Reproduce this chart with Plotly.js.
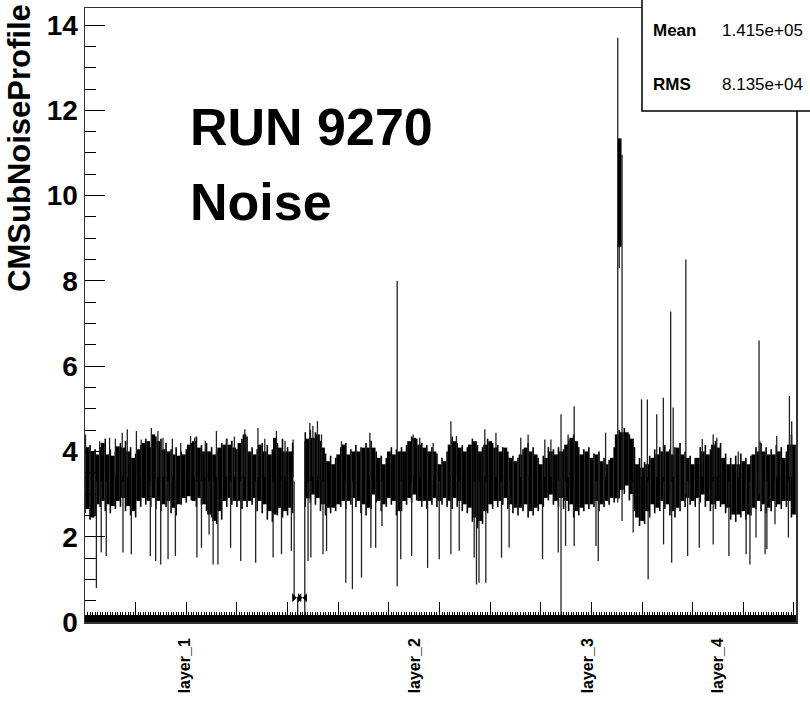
<!DOCTYPE html>
<html>
<head>
<meta charset="utf-8">
<script src="https://cdn.plot.ly/plotly-3.0.1.min.js"></script>
<style>html,body{margin:0;padding:0;background:#fff;}#chart{width:810px;height:703px;}</style>
</head>
<body>
<div id="chart"></div>
<script>
// x in thousands of strips (bin index / 1000)
const layerLabels = ["layer_1", "layer_2", "layer_3", "layer_4"];
const layerPos = [39.4, 130.2, 198.6, 250.0];

// dense core of the profile, part A (before the gap)
const coreAX = [1,3,5,7,9,11,13,15,17,19,21,23,25,27,29,31,33,35,37,39,41,43,45,47,49,51,53,55,57,59,61,63,65,67,69,71,73,75,77,79,81];
const coreAHi = [4.10,4.00,3.93,4.20,3.93,3.90,4.12,4.09,4.00,3.85, 4.05,4.20,4.24,4.40,4.24,4.05,4.00,3.93,3.90,3.93, 4.16,4.24,4.09,4.00,4.00,3.93,4.09,4.16,4.16,4.09, 4.20,4.40,4.00,3.93,4.16,4.00,3.93,4.32,4.09,4.00, 4.00];
const coreALo = [2.65,2.45,2.76,2.84,2.76,2.72,2.84,2.91,2.72,2.60, 2.84,2.91,2.84,2.91,2.84,2.76,2.84,2.68,2.76,2.91, 2.95,2.84,2.91,2.76,2.52,2.37,2.60,2.84,2.91,2.84, 2.84,2.84,2.84,2.91,2.84,2.76,2.60,2.52,2.68,2.60, 2.68];

// neighbouring bins in part A (between core columns)
const hairAX = [0,2,4,6,8,10,12,14,16,18,20,22,24,26,28,30,32,34,36,38,40,42,44,46,48,50,52,54,56,58,60,62,64,66,68,70,72,74,76,78,80,82];
const hairAHi = [4.25,4.15,4.05,4.10,4.30,4.05,4.00,4.20,4.25,4.10, 3.95,4.15,4.30,4.10,4.35,4.30,4.20,4.05,4.10,4.00, 4.05,4.20,4.35,4.15,4.20,4.10,4.00,4.20,4.30,4.25, 4.05,4.30,4.35,4.10,4.05,4.20,4.15,4.05,4.20,4.30, 4.10,4.20];
const hairALo = [2.55,2.40,2.50,2.70,2.60,2.55,2.65,2.70,2.60,2.50, 2.45,2.70,2.75,2.70,2.65,2.60,2.70,2.55,2.50,2.75, 2.80,2.85,2.70,2.75,2.60,2.45,2.30,2.40,2.70,2.75, 2.70,2.65,2.70,2.75,2.60,2.55,2.40,2.35,2.50,2.45, 2.50,2.55];

// dense core, part B (after the gap)
const coreBX = [88,90,92,94,96,98,100,102,104,106, 108,110,112,114,116,118,120,122,124,126, 128,130,132,134,136,138,140,142,144,146, 148,150,152,154,156,158,160,162,164,166, 168,170,172,174,176,178,180,182,184,186, 188,190,192,194,196,198,200,202,204,206, 208,210,212,214,216,218,220,222,224,226, 228,230,232,234,236,238,240,242,244,246, 248,250,252,254,256,258,260,262,264,266, 268,270,272,274,276,278,280];
const coreBHi = [4.30,4.32,4.40,4.09,3.77,3.70,3.93,4.16,3.93,4.00, 4.00,4.09,4.09,4.09,3.85,3.70,4.00,3.93,4.00,4.00, 4.24,4.32,4.16,4.09,4.00,4.00,3.70,3.77,4.16,4.24, 4.09,4.00,4.16,4.24,4.00,4.16,4.24,4.09,4.00,4.09, 3.85,3.77,3.93,4.09,4.00,3.93,3.70,3.85,4.00,3.93, 4.00,4.16,4.32,4.24,3.93,4.00,3.85,3.93,3.77,3.70, 3.85,4.40,4.45,4.45,4.30,3.70,3.62,3.70,3.85,3.93, 4.00,4.00,3.93,4.09,3.93,3.85,3.70,3.85,4.00,3.93, 4.16,4.09,3.85,3.70,3.70,3.70,3.77,3.70,3.93,4.00, 4.00,3.93,3.93,4.00,3.85,4.16,4.16];
const coreBLo = [2.90,2.99,2.91,2.76,2.68,2.68,2.76,2.84,2.84,2.91, 2.84,2.76,2.68,2.99,2.84,2.76,2.91,2.84,2.60,2.84, 2.91,2.99,2.84,2.84,2.84,2.91,2.84,2.91,2.84,2.91, 2.84,2.76,2.68,2.45,2.37,2.60,2.76,2.84,2.84,2.91, 2.76,2.68,2.68,2.76,2.60,2.68,2.76,2.91,2.99,2.84, 2.91,2.84,2.76,2.60,2.68,2.76,2.76,2.84,2.76,2.84, 2.91,2.90,3.10,3.20,3.00,2.45,2.37,2.60,2.76,2.68, 2.84,2.76,2.60,2.68,2.84,2.91,2.84,2.91,2.99,2.84, 2.76,2.84,2.76,2.68,2.52,2.52,2.60,2.52,2.68,2.84, 2.76,2.68,2.84,2.76,2.84,2.84,2.52];

// neighbouring bins in part B
const hairBX = [87,89,91,93,95,97,99,101,103,105, 107,109,111,113,115,117,119,121,123,125, 127,129,131,133,135,137,139,141,143,145, 147,149,151,153,155,157,159,161,163,165, 167,169,171,173,175,177,179,181,183,185, 187,189,191,193,195,197,199,201,203,205, 207,209,211,213,215,217,219,221,223,225, 227,229,231,233,235,237,239,241,243,245, 247,249,251,253,255,257,259,261,263,265, 267,269,271,273,275,277,279];
const hairBHi = [4.45,4.50,4.45,4.25,3.95,3.90,3.85,4.10,4.20,4.05, 4.15,4.10,4.20,4.25,4.00,3.90,3.85,4.10,4.05,4.10, 4.15,4.35,4.30,4.20,4.15,4.10,3.95,3.85,4.00,4.35, 4.20,4.15,4.10,4.30,4.15,4.10,4.30,4.20,4.15,4.10, 4.00,3.90,3.85,4.05,4.20,4.10,3.85,3.90,4.10,4.05, 4.10,4.05,4.25,4.40,4.10,4.05,4.10,3.95,4.00,3.85, 3.80,4.10,4.50,4.55,4.40,4.10,3.85,3.75,3.90,4.05, 4.10,4.15,4.05,4.10,4.20,4.00,3.90,3.85,4.10,4.15, 4.05,4.25,4.20,3.95,3.85,3.90,3.95,3.85,3.90,4.10, 4.20,4.10,4.05,4.15,4.10,4.00,4.40];
const hairBLo = [2.70,2.80,2.75,2.60,2.50,2.55,2.60,2.70,2.65,2.75, 2.70,2.55,2.50,2.65,2.80,2.60,2.70,2.75,2.50,2.60, 2.75,2.80,2.85,2.70,2.65,2.75,2.70,2.75,2.70,2.65, 2.70,2.60,2.55,2.35,2.20,2.30,2.55,2.65,2.70,2.75, 2.65,2.55,2.50,2.60,2.45,2.50,2.60,2.70,2.85,2.75, 2.70,2.65,2.60,2.45,2.50,2.60,2.65,2.70,2.60,2.70, 2.75,2.80,2.90,3.00,2.85,2.60,2.25,2.30,2.45,2.55, 2.60,2.65,2.50,2.45,2.60,2.70,2.75,2.70,2.80,2.70, 2.60,2.65,2.70,2.55,2.40,2.35,2.45,2.40,2.50,2.65, 2.60,2.55,2.60,2.70,2.65,2.70,2.45];

// single thin bins sticking far out of the core
const spikeX = [0.2,5.8,9.7,12,14.7,16.7,20.3,22.2,26.2,28.8,30.8,34.5,37.8,41.7,43.3,47.5,51.9,55.8,59,63.1,68.3,71,75.6,79,82.2,
  4.5,6.4,8.4,15.0,18.3,25.8,27.9,29.9,32.8,35.7,44.2,46.0,49.0,50.6,52.5,57.5,61.5,67.4,74.3,77.6,81.5,
  82.6,84.0,86.8,
  88.8,90,91.8,93.4,101.3,112.5,129.6,132.2,137.5,144.5,146.7,157.9,162.3,172.1,175,181.6,184,190.8,193.2,205.6,219.8,222.1,225.8,228.4,232.3,243.8,248.1,249.5,258,266.6,273.2,278.2,279.1,
  123.3,188,210.4,211.0,212.1,231.3,237.3,266.2,
  88.1,89.2,94,95.4,103,105.6,109.2,112.9,114.8,117.3,124.7,129,135.3,139.9,144.5,147.8,153.7,154.6,155.6,158.3,164.5,167.5,180.7,186.9,189.8,193.2,201.8,202.7,216.5,222.4,228.5,231.7,238,242.6,248.1,254.3,261.1,262.6,265,268.6,269.3,272.5,277.8];
const spikeLo = [3.4,3.4,3.4,3.4,3.4,3.4,3.4,3.4,3.4,3.4,3.4,3.4,3.4,3.4,3.4,3.4,3.4,3.4,3.4,3.4,3.4,3.4,3.4,3.4,3.4,
  0.80,1.63,1.55,1.63,1.59,1.55,1.43,1.35,1.47,1.55,1.51,1.74,2.05,1.35,1.35,1.74,1.43,1.39,1.51,1.59,1.67,
  0.57,0.0,0.0,
  3.4,3.4,3.4,3.4,3.4,3.4,3.4,3.4,3.4,3.4,3.4,3.4,3.4,3.4,3.4,3.4,3.4,3.4,3.4,3.4,3.4,3.4,3.4,3.4,3.4,3.4,3.4,3.4,3.4,3.4,3.4,3.4,3.4,
  0.84,0.0,2.8,8.3,2.37,3.0,3.0,3.0,
  1.43,1.51,1.59,1.67,0.92,0.77,1.04,1.74,1.74,2.25,1.47,1.55,1.27,1.47,1.59,1.67,1.51,0.88,0.92,0.92,1.51,1.74,1.47,1.63,1.78,1.78,1.78,1.43,2.10,1.00,1.82,1.39,1.55,1.74,1.82,1.55,1.59,1.35,1.98,1.59,1.71,2.29,1.98];
const spikeHi = [4.40,4.24,4.32,4.30,4.44,4.52,4.48,4.28,4.55,4.48,4.32,4.30,4.20,4.36,4.32,4.25,4.48,4.28,4.35,4.52,4.55,4.30,4.48,4.25,4.28,
  3.3,3.3,3.3,3.3,3.3,3.3,3.3,3.3,3.3,3.3,3.3,3.3,3.3,3.3,3.3,3.3,3.3,3.3,3.3,3.3,3.3,
  3.30,0.57,4.24,
  4.67,4.60,4.71,4.40,4.24,4.44,4.40,4.32,4.20,4.71,4.36,4.52,4.44,4.32,4.40,4.28,4.28,4.40,5.06,4.44,5.22,5.22,4.87,5.26,5.03,4.29,4.40,4.32,4.00,4.24,4.36,5.30,4.71,
  8.00,4.87,13.70,11.34,10.96,7.28,8.50,6.60,
  3.3,3.3,3.3,3.3,3.3,3.3,3.3,3.3,3.3,3.3,3.3,3.3,3.3,3.3,3.3,3.3,3.3,3.3,3.3,3.3,3.3,3.3,3.3,3.3,3.3,3.3,3.3,3.3,3.3,3.3,3.3,3.3,3.3,3.3,3.3,3.3,3.3,3.3,3.3,3.3,3.3,3.3,3.3];

// wide part of the big spike
const blobX = [211.2];
const blobLo = [8.8];
const blobHi = [11.34];

// dead bins in the gap
const gapX = [83.6, 85.9];
const gapY = [0.57, 0.57];

const statNames = ["Mean", "RMS"];
const statValues = ["1.415e+05", "8.135e+04"];

function segs(xs, lo, hi) {
  const X = [], Y = [];
  for (let i = 0; i < xs.length; i++) {
    X.push(xs[i], xs[i], null);
    Y.push(lo[i], hi[i], null);
  }
  return {x: X, y: Y};
}

const FONT = "Liberation Sans, Arial, Helvetica, sans-serif";
const a = segs(coreAX, coreALo, coreAHi);
const b = segs(coreBX, coreBLo, coreBHi);
const ha = segs(hairAX, hairALo, hairAHi);
const hb = segs(hairBX, hairBLo, hairBHi);
const s = segs(spikeX, spikeLo, spikeHi);
const bl = segs(blobX, blobLo, blobHi);

function seg(d, w, c) {
  return {x: d.x, y: d.y, mode: "lines", line: {color: c, width: w}, hoverinfo: "skip", showlegend: false};
}

const traces = [
  seg(a, 3.8, "#000"),
  seg(b, 3.8, "#000"),
  seg(ha, 1.6, "#000"),
  seg(hb, 1.6, "#000"),
  seg(s, 1.3, "#222"),
  seg(bl, 3.5, "#000"),
  {x: gapX, y: gapY, mode: "markers", marker: {symbol: "bowtie", size: 9, color: "#000"}, hoverinfo: "skip", showlegend: false},
  {x: layerPos, y: [null,null,null,null], xaxis: "x2", mode: "markers", showlegend: false, hoverinfo: "skip"}
];

const annotations = [
  {text: "CMSubNoiseProfile", textangle: -90, xref: "paper", yref: "paper", x: -0.0914, y: 1.01, xanchor: "center", yanchor: "top", showarrow: false, font: {family: FONT, size: 31, weight: 700, color: "#000"}},
  {text: "RUN 9270", xref: "paper", yref: "paper", x: 0.145, y: 0.806, xanchor: "left", yanchor: "middle", showarrow: false, font: {family: FONT, size: 52, weight: 700, color: "#000"}},
  {text: "Noise", xref: "paper", yref: "paper", x: 0.145, y: 0.684, xanchor: "left", yanchor: "middle", showarrow: false, font: {family: FONT, size: 52, weight: 700, color: "#000"}}
];
const statY = [0.964, 0.876];
for (let i = 0; i < statNames.length; i++) {
  annotations.push({text: statNames[i], xref: "paper", yref: "paper", x: 0.7955, y: statY[i], xanchor: "left", yanchor: "middle", showarrow: false, font: {family: FONT, size: 17, weight: 700, color: "#000"}});
  annotations.push({text: statValues[i], xref: "paper", yref: "paper", x: 0.8925, y: statY[i], xanchor: "left", yanchor: "middle", showarrow: false, font: {family: FONT, size: 17, color: "#000"}});
}

const layout = {
  width: 810, height: 703,
  margin: {l: 85, r: 14, t: 8, b: 81},
  paper_bgcolor: "#fff", plot_bgcolor: "#fff",
  showlegend: false,
  xaxis: {
    range: [0, 280.8], tickmode: "linear", tick0: 0, dtick: 20,
    ticks: "inside", ticklen: 20, tickwidth: 1, tickcolor: "#000",
    showticklabels: false, showgrid: false, zeroline: false,
    showline: true, mirror: true, linecolor: "#333", linewidth: 1.5,
    minor: {dtick: 1, ticks: "inside", ticklen: 10, tickwidth: 1, tickcolor: "#000", showgrid: false}
  },
  xaxis2: {
    overlaying: "x", anchor: "y", side: "bottom", range: [0, 280.8],
    tickmode: "array", tickvals: layerPos, ticktext: layerLabels, tickangle: -90,
    ticks: "", showgrid: false, zeroline: false, showline: false, ticklabelstandoff: 12,
    tickfont: {family: FONT, size: 16, weight: 700, color: "#000"}
  },
  yaxis: {
    range: [0, 14.4], tickmode: "linear", tick0: 0, dtick: 2,
    ticks: "inside", ticklen: 20, tickwidth: 1, tickcolor: "#000",
    showgrid: false, zeroline: false, showline: true, mirror: true, linecolor: "#333", linewidth: 1.5,
    tickfont: {family: FONT, size: 28, weight: 700, color: "#000"},
    minor: {dtick: 0.5, ticks: "inside", ticklen: 11, tickwidth: 1, tickcolor: "#000", showgrid: false}
  },
  shapes: [
    {type: "rect", xref: "paper", yref: "paper", x0: 0, x1: 1, y0: 0, y1: 7/614, fillcolor: "#000", line: {width: 0}, layer: "above"},
    {type: "rect", xref: "paper", yref: "paper", x0: 0.7834, x1: 1.3, y0: 0.8322, y1: 1.2, fillcolor: "#fff", line: {color: "#000", width: 1.5}, layer: "above"}
  ],
  annotations: annotations
};

Plotly.newPlot("chart", traces, layout, {displayModeBar: false, staticPlot: true});
</script>
</body>
</html>
